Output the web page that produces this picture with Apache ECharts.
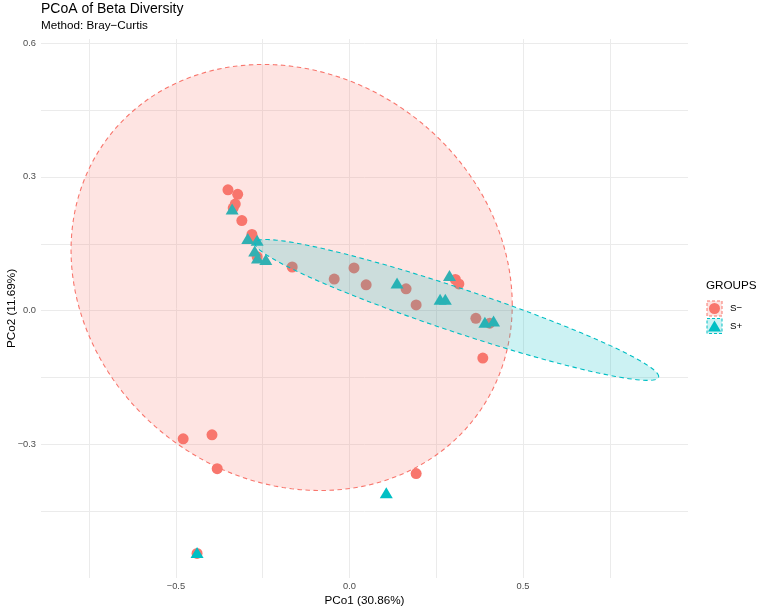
<!DOCTYPE html>
<html lang="en">
<head>
    <meta charset="UTF-8">
    <title>PCoA of Beta Diversity</title>
    <script src="https://cdn.jsdelivr.net/npm/echarts@6.0.0/dist/echarts.min.js"></script>
    <style>
        body, html {
            margin: 0;
            padding: 0;
            width: 100%;
            height: 100%;
            background-color: #ffffff;
        }
        #chart {
            width: 759px;
            height: 610px;
        }
    </style>
</head>
<body>
<div id="chart"></div>
<script>
    // S- group (circles)
    var sMinusX = [-0.350, -0.322, -0.329, -0.335, -0.310, -0.281, -0.280, -0.266, -0.165, -0.044,
                   0.013, 0.048, 0.163, 0.192, 0.305, 0.315, 0.364, 0.404, 0.384, -0.479,
                   -0.396, -0.381, 0.192, -0.439];
    var sMinusY = [0.271, 0.261, 0.239, 0.230, 0.202, 0.171, 0.163, 0.121, 0.098, 0.071,
                   0.096, 0.058, 0.049, 0.013, 0.070, 0.060, -0.017, -0.028, -0.106, -0.287,
                   -0.278, -0.354, -0.365, -0.544];
    // S+ group (triangles)
    var sPlusX = [-0.338, -0.293, -0.266, -0.273, -0.265, -0.241, 0.137, 0.261, 0.276, 0.288,
                  0.390, 0.415, 0.106, -0.439];
    var sPlusY = [0.228, 0.162, 0.158, 0.134, 0.118, 0.115, 0.062, 0.026, 0.026, 0.079,
                  -0.026, -0.023, -0.408, -0.542];

    // ellipse: centre x, centre y, half-vector to x-extreme (ux, uy), vertical half-height at centre
    var ellipseMinus = [-0.1666, 0.0745, 0.6354, -0.0615, 0.4735];
    var ellipsePlus = [0.309, 0.0018, 0.5816, -0.1492, 0.0515];

    var xTicks = [-0.75, -0.5, -0.25, 0, 0.25, 0.5, 0.75];
    var xLabels = [-0.5, 0, 0.5];
    var yTicks = [-0.45, -0.3, -0.15, 0, 0.15, 0.3, 0.45, 0.6];
    var yLabels = [-0.3, 0, 0.3, 0.6];

    var RED = '#F8766D';
    var TEAL = '#00BFC4';
    var FONT = '"Liberation Sans", Arial, Helvetica, sans-serif';

    function zip(xs, ys) {
        return xs.map(function (x, i) { return [x, ys[i]]; });
    }

    function fmt(v) {
        return Number(v).toFixed(1).replace('-', '\u2212');
    }

    function ellipseRenderer(fill, stroke) {
        return function (params, api) {
            var cx = api.value(0), cy = api.value(1);
            var ux = api.value(2), uy = api.value(3), h = api.value(4);
            var pts = [];
            for (var i = 0; i < 160; i++) {
                var t = i / 160 * Math.PI * 2;
                pts.push(api.coord([cx + ux * Math.cos(t), cy + uy * Math.cos(t) + h * Math.sin(t)]));
            }
            return {
                type: 'polygon',
                shape: { points: pts },
                style: { fill: fill, stroke: stroke, lineWidth: 1.1, lineDash: [4.5, 3.5] }
            };
        };
    }

    var chart = echarts.init(document.getElementById('chart'));

    var option = {
        animation: false,
        textStyle: { fontFamily: FONT },
        title: [{
            text: 'PCoA of Beta Diversity',
            left: 41, top: 2, padding: 0,
            textStyle: { fontSize: 14, fontWeight: 'normal', color: '#000', fontFamily: FONT }
        }, {
            text: 'Method: Bray\u2212Curtis',
            left: 41, top: 20, padding: 0,
            textStyle: { fontSize: 11.7, fontWeight: 'normal', color: '#000', fontFamily: FONT }
        }],
        grid: { left: 41, right: 71, top: 39, bottom: 32, containLabel: false, outerBoundsMode: 'none' },
        xAxis: {
            type: 'value',
            min: -0.8885, max: 0.975,
            name: 'PCo1 (30.86%)',
            nameLocation: 'middle',
            nameGap: 17,
            nameMoveOverlap: false,
            nameTextStyle: { fontSize: 11.7, color: '#000', fontFamily: FONT },
            axisLine: { show: false },
            axisTick: { show: false, customValues: xTicks },
            axisLabel: { customValues: xLabels, formatter: fmt, fontSize: 9.3, color: '#4D4D4D', margin: 4, fontFamily: FONT },
            splitLine: { show: true, lineStyle: { color: '#EBEBEB', width: 1 } }
        },
        yAxis: {
            type: 'value',
            min: -0.599, max: 0.609,
            name: 'PCo2 (11.69%)',
            nameLocation: 'middle',
            nameGap: 23,
            nameMoveOverlap: false,
            nameTextStyle: { fontSize: 11.7, color: '#000', fontFamily: FONT },
            axisLine: { show: false },
            axisTick: { show: false, customValues: yTicks },
            axisLabel: { customValues: yLabels, formatter: fmt, fontSize: 9.3, color: '#4D4D4D', margin: 5, fontFamily: FONT },
            splitLine: { show: true, lineStyle: { color: '#EBEBEB', width: 1 } }
        },
        series: [{
            name: 'S\u2212',
            type: 'scatter',
            data: zip(sMinusX, sMinusY),
            symbol: 'circle',
            symbolSize: 11,
            itemStyle: { color: RED, opacity: 1 },
            z: 2
        }, {
            name: 'S+',
            type: 'scatter',
            data: zip(sPlusX, sPlusY),
            symbol: 'triangle',
            symbolSize: [13, 11],
            itemStyle: { color: TEAL, opacity: 1 },
            z: 2
        }, {
            type: 'custom',
            data: [ellipseMinus],
            encode: { x: 0, y: 1 },
            renderItem: ellipseRenderer('rgba(248,118,109,0.2)', RED),
            silent: true,
            z: 3
        }, {
            type: 'custom',
            data: [ellipsePlus],
            encode: { x: 0, y: 1 },
            renderItem: ellipseRenderer('rgba(0,191,196,0.2)', TEAL),
            silent: true,
            z: 4
        }],
        // legend drawn by hand to get the dashed key boxes like ggplot
        graphic: [
            { type: 'text', left: 706, top: 280, style: { text: 'GROUPS', fontSize: 11.7, fill: '#000', fontFamily: FONT } },
            { type: 'rect', shape: { x: 707, y: 301, width: 15, height: 15 },
              style: { fill: 'rgba(248,118,109,0.2)', stroke: RED, lineWidth: 1, lineDash: [3, 2] } },
            { type: 'circle', shape: { cx: 714.5, cy: 308.5, r: 5.5 }, style: { fill: RED } },
            { type: 'text', left: 730, top: 303, style: { text: 'S\u2212', fontSize: 9.8, fill: '#000', fontFamily: FONT } },
            { type: 'rect', shape: { x: 707, y: 318.5, width: 15, height: 15 },
              style: { fill: 'rgba(0,191,196,0.2)', stroke: TEAL, lineWidth: 1, lineDash: [3, 2] } },
            { type: 'polygon', shape: { points: [[714.5, 320.5], [721, 331.5], [708, 331.5]] }, style: { fill: TEAL } },
            { type: 'text', left: 730, top: 321, style: { text: 'S+', fontSize: 9.8, fill: '#000', fontFamily: FONT } }
        ]
    };

    chart.setOption(option);
</script>
</body>
</html>
